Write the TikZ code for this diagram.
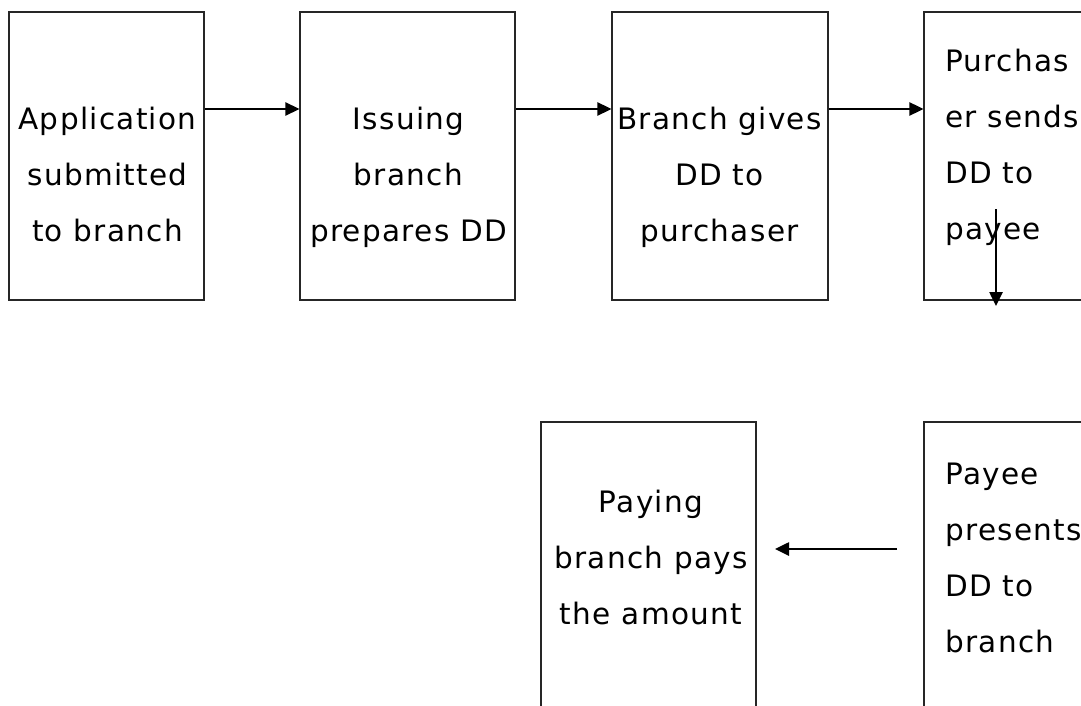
\documentclass[tikz,border=0pt]{standalone}
\usepackage{fontspec}
\newfontfamily\labfont[LetterSpace=4.5]{DejaVu Sans}
\usetikzlibrary{arrows.meta}
\tikzset{
  box/.style={draw=black!85, line width=1.1pt, inner sep=0pt, minimum width=#1, minimum height=288pt},
  lowbox/.style={draw=black!85, line width=1.1pt, inner sep=0pt, minimum width=#1, minimum height=300pt},
  lab/.style={inner sep=0pt, font=\labfont\fontsize{29.5}{56}\selectfont},
  arr/.style={line width=2.6pt, -{Triangle[length=14pt,width=13pt]}},
}
\begin{document}
\begin{tikzpicture}[x=1pt,y=-1pt]
\useasboundingbox (0,0) rectangle (1081,706);
\fill[white] (0,0) rectangle (1081,706);
\clip (0,0) rectangle (1081,706);
% boxes
\node[box=195pt] (b1) at (106.5,156) {};
\node[box=215pt] (b2) at (407.5,156) {};
\node[box=216pt] (b3) at (720,156) {};
\node[box=216pt] (b4) at (1032,156) {};
\node[lowbox=215pt] (b5) at (648.5,572) {};
\node[lowbox=216pt] (b6) at (1032,572) {};
% texts
\node[lab, anchor=base] (t1) at (107.5,129) {\parbox[t]{220pt}{\centering Application\\submitted\\to branch}};
\node[lab, anchor=base] (t2) at (408.5,129) {\parbox[t]{240pt}{\centering Issuing\\branch\\prepares DD}};
\node[lab, anchor=base] (t3) at (719.5,129) {\parbox[t]{240pt}{\centering Branch gives\\DD to\\purchaser}};
\node[lab, anchor=base west] (t4) at (945,72) {\parbox[t]{200pt}{\raggedright Purchas\\er sends\\DD to\\payee}};
\node[lab, anchor=base] (t5) at (651,512) {\parbox[t]{240pt}{\centering Paying\\branch pays\\the amount}};
\node[lab, anchor=base west] (t6) at (945,484) {\parbox[t]{200pt}{\raggedright Payee\\presents\\DD to\\branch}};
% connectors
\coordinate (row) at (0,109);
\draw[arr] (b1.east |- row) -- (b2.west |- row);
\draw[arr] (b2.east |- row) -- (b3.west |- row);
\draw[arr] (b3.east |- row) -- (b4.west |- row);
\coordinate (d1) at (996,209);
\coordinate (d2) at (996,306);
\draw[arr] (d1) -- (d2);
\coordinate (l1) at (897,549);
\coordinate (l2) at (775,549);
\draw[arr] (l1) -- (l2);
\end{tikzpicture}
\end{document}
